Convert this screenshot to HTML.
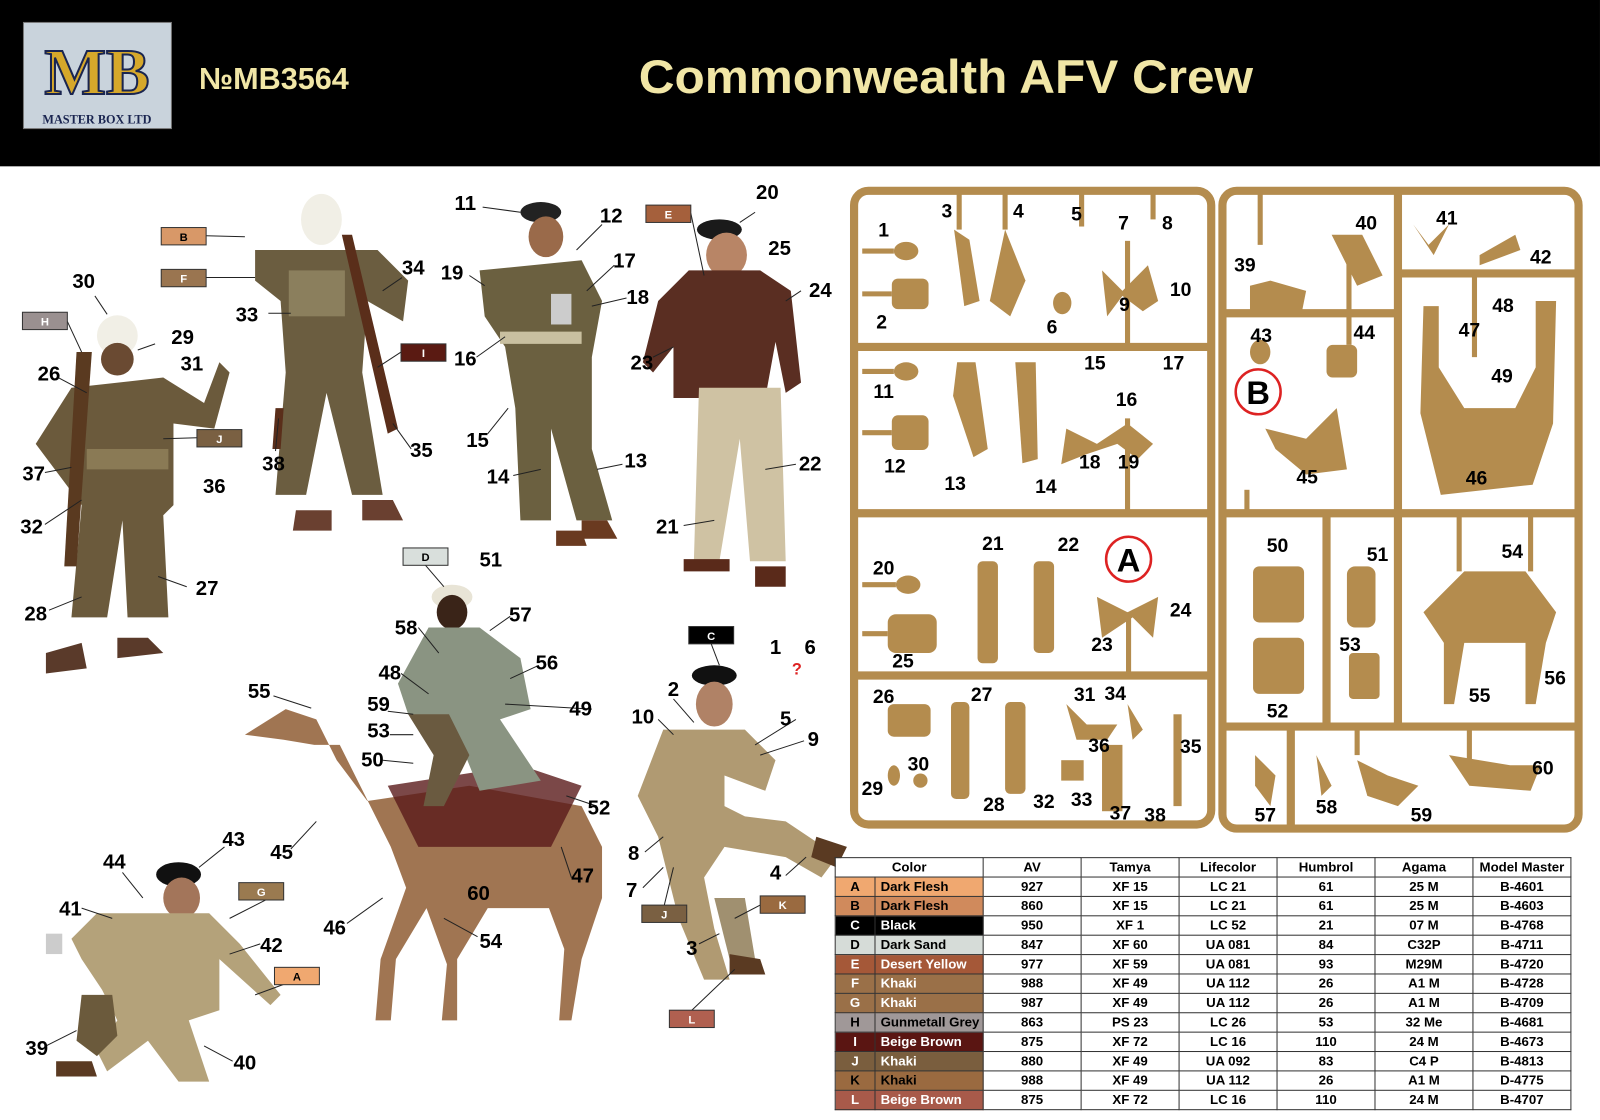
<!DOCTYPE html>
<html><head><meta charset="utf-8">
<style>
html,body{margin:0;padding:0;background:#fff;width:1600px;height:1120px;overflow:hidden}
#w{position:absolute;left:0;top:0;width:1568px;height:1098px;transform:scale(1.0204);transform-origin:0 0;font-family:"Liberation Sans",sans-serif}
svg text{font-family:"Liberation Sans",sans-serif;font-weight:bold}
table{position:absolute;left:818px;top:840px;border-collapse:collapse;font-family:"Liberation Sans",sans-serif;font-weight:bold;font-size:13px}
td{border:1px solid #333;height:18px;padding:0;text-align:center;width:95px;line-height:18px}
td.l{width:38px;color:#fff}td.n{width:100px;text-align:left;padding-left:5px;color:#fff}
</style></head><body><div id="w">
<svg width="1568" height="1098" viewBox="0 0 1568 1098" style="position:absolute;left:0;top:0">
<rect x="0" y="0" width="1568" height="163" fill="#000"/>
<rect x="23" y="22" width="145" height="104" fill="#c9d3dc" stroke="#777"/>
<text x="95" y="92" font-size="64" text-anchor="middle" fill="#d6a82b" stroke="#1a2550" stroke-width="2" style="font-family:'Liberation Serif',serif">MB</text>
<text x="95" y="121" font-size="12" text-anchor="middle" fill="#1a2550" style="font-family:'Liberation Serif',serif">MASTER BOX LTD</text>
<text x="195" y="87" font-size="30" fill="#f1e6a6">№MB3564</text>
<text x="626" y="91" font-size="46" fill="#f1e6a6" textLength="602" lengthAdjust="spacingAndGlyphs">Commonwealth AFV Crew</text>

<g fill="none" stroke="#b48c4e" stroke-width="8">
<rect x="837" y="187" width="350" height="621" rx="14"/>
<line x1="837" y1="340" x2="1187" y2="340"/><line x1="837" y1="503" x2="1187" y2="503"/><line x1="837" y1="662" x2="1187" y2="662"/>
<rect x="1198" y="187" width="349" height="625" rx="14"/>
<line x1="1198" y1="307" x2="1370" y2="307"/><line x1="1370" y1="187" x2="1370" y2="712"/><line x1="1370" y1="268" x2="1547" y2="268"/>
<line x1="1198" y1="503" x2="1547" y2="503"/><line x1="1300" y1="503" x2="1300" y2="712"/><line x1="1198" y1="712" x2="1547" y2="712"/>
<line x1="1265" y1="712" x2="1265" y2="812"/>
</g>
<g fill="none" stroke="#b48c4e" stroke-width="5">
<line x1="940" y1="187" x2="940" y2="225"/><line x1="985" y1="187" x2="985" y2="225"/><line x1="1060" y1="187" x2="1060" y2="222"/><line x1="1130" y1="187" x2="1130" y2="215"/>
<line x1="1105" y1="236" x2="1105" y2="340"/><line x1="845" y1="246" x2="876" y2="246"/><line x1="845" y1="288" x2="874" y2="288"/>
<line x1="1105" y1="410" x2="1105" y2="503"/><line x1="845" y1="364" x2="876" y2="364"/><line x1="845" y1="424" x2="874" y2="424"/>
<line x1="845" y1="573" x2="878" y2="573"/><line x1="845" y1="621" x2="870" y2="621"/><line x1="1106" y1="600" x2="1106" y2="662"/>
<line x1="1235" y1="187" x2="1235" y2="240"/><line x1="1322" y1="240" x2="1322" y2="338"/><line x1="1222" y1="480" x2="1222" y2="503"/>
<line x1="1445" y1="268" x2="1445" y2="350"/><line x1="1430" y1="503" x2="1430" y2="560"/><line x1="1500" y1="503" x2="1500" y2="560"/>
<line x1="1330" y1="712" x2="1330" y2="740"/><line x1="1440" y1="712" x2="1440" y2="745"/>
</g>
<g fill="#b48c4e" stroke="none">
<ellipse cx="888" cy="246" rx="12" ry="9"/><rect x="874" y="273" width="36" height="30" rx="6"/>
<path d="M935 225 l15 10 l10 60 l-15 5 z"/><path d="M985 225 l20 50 l-15 35 l-20 -15 z"/>
<ellipse cx="1041" cy="297" rx="9" ry="11"/><path d="M1080 265 l20 20 l25 -25 l10 35 l-15 10 l-20 -15 l-15 20 z"/>
<ellipse cx="888" cy="364" rx="12" ry="9"/><rect x="874" y="407" width="36" height="34" rx="6"/>
<path d="M938 355 l18 0 l12 85 l-14 8 l-20 -60 z"/><path d="M995 355 l20 0 l2 95 l-15 4 z"/>
<path d="M1045 420 l30 15 l30 -20 l25 20 l-15 15 l-20 -15 l-30 10 l-25 10 z"/>
<ellipse cx="890" cy="573" rx="12" ry="9"/><rect x="870" y="602" width="48" height="38" rx="8"/>
<rect x="958" y="550" width="20" height="100" rx="5"/><rect x="1013" y="550" width="20" height="90" rx="5"/>
<path d="M1075 585 l30 15 l30 -15 l-5 40 l-20 -20 l-30 20 z"/>
<rect x="870" y="690" width="42" height="32" rx="6"/><rect x="932" y="688" width="18" height="95" rx="5"/><rect x="985" y="688" width="20" height="90" rx="5"/>
<path d="M1045 690 l20 20 l30 0 l-10 15 l-30 0 z"/><path d="M1105 690 l15 25 l-10 10 z"/><ellipse cx="876" cy="760" rx="6" ry="10"/><ellipse cx="902" cy="765" rx="7" ry="7"/>
<rect x="1040" y="745" width="22" height="20"/><rect x="1080" y="730" width="20" height="65"/><rect x="1150" y="700" width="8" height="90"/>
<path d="M1225 280 l20 -5 l35 10 l-5 25 l-50 -5 z"/><path d="M1305 230 l30 0 l20 40 l-25 10 z"/>
<path d="M1385 220 l15 20 l20 -20 l-15 30 z"/><path d="M1450 250 l35 -20 l5 15 l-40 15 z"/>
<ellipse cx="1235" cy="345" rx="10" ry="12"/><rect x="1300" y="338" width="30" height="32" rx="6"/>
<path d="M1240 420 l40 10 l30 -30 l10 60 l-40 5 l-30 -25 z"/>
<path d="M1395 300 l15 0 l0 60 l25 40 l50 0 l20 -40 l0 -65 l20 0 l-3 120 l-20 60 l-90 10 l-20 -80 z"/>
<rect x="1228" y="555" width="50" height="55" rx="6"/><rect x="1228" y="625" width="50" height="55" rx="6"/>
<rect x="1320" y="555" width="28" height="60" rx="8"/><rect x="1322" y="640" width="30" height="45" rx="4"/>
<path d="M1395 600 l40 -40 l60 0 l30 40 l-10 30 l-10 60 l-10 0 l0 -60 l-60 0 l-10 60 l-10 0 l0 -60 z"/>
<path d="M1230 740 l20 20 l-5 30 l-15 -20 z"/><path d="M1290 740 l15 30 l-10 10 z"/><path d="M1330 745 l30 15 l30 10 l-20 20 l-30 -10 z"/>
<path d="M1420 740 l60 10 l30 0 l-10 25 l-60 -5 z"/>
</g>
<circle cx="1106" cy="548" r="22" fill="none" stroke="#d22" stroke-width="2.5"/><text x="1106" y="560" font-size="32" text-anchor="middle">A</text>
<circle cx="1233" cy="384" r="22" fill="none" stroke="#d22" stroke-width="2.5"/><text x="1233" y="396" font-size="32" text-anchor="middle">B</text>
<g font-size="19" text-anchor="middle">
<text x="866" y="232">1</text><text x="928" y="213">3</text><text x="998" y="213">4</text><text x="1055" y="216">5</text><text x="1101" y="225">7</text><text x="1144" y="225">8</text>
<text x="864" y="322">2</text><text x="1031" y="327">6</text><text x="1102" y="305">9</text><text x="1157" y="290">10</text>
<text x="866" y="390">11</text><text x="1073" y="362">15</text><text x="1150" y="362">17</text><text x="1104" y="398">16</text>
<text x="877" y="463">12</text><text x="936" y="480">13</text><text x="1025" y="483">14</text><text x="1068" y="459">18</text><text x="1106" y="459">19</text>
<text x="866" y="563">20</text><text x="973" y="539">21</text><text x="1047" y="540">22</text><text x="1157" y="604">24</text><text x="1080" y="638">23</text><text x="885" y="654">25</text>
<text x="866" y="689">26</text><text x="962" y="687">27</text><text x="1063" y="687">31</text><text x="1093" y="686">34</text><text x="1167" y="738">35</text><text x="1077" y="737">36</text>
<text x="855" y="779">29</text><text x="900" y="755">30</text><text x="974" y="795">28</text><text x="1023" y="792">32</text><text x="1060" y="790">33</text><text x="1098" y="803">37</text><text x="1132" y="805">38</text>
<text x="1220" y="266">39</text><text x="1339" y="225">40</text><text x="1418" y="220">41</text><text x="1510" y="258">42</text>
<text x="1236" y="335">43</text><text x="1337" y="332">44</text><text x="1473" y="306">48</text><text x="1440" y="330">47</text><text x="1472" y="375">49</text>
<text x="1281" y="474">45</text><text x="1447" y="475">46</text>
<text x="1252" y="541">50</text><text x="1350" y="550">51</text><text x="1482" y="547">54</text><text x="1323" y="638">53</text><text x="1252" y="703">52</text>
<text x="1524" y="671">56</text><text x="1450" y="688">55</text><text x="1512" y="759">60</text>
<text x="1240" y="805">57</text><text x="1300" y="797">58</text><text x="1393" y="805">59</text>
</g>

<g>
<ellipse cx="115" cy="329" rx="20" ry="20" fill="#f1efe6"/><ellipse cx="115" cy="352" rx="16" ry="16" fill="#6a4a32"/>
<path d="M70 380 l90 -10 l40 25 l15 -40 l10 10 l-15 55 l-40 -5 l0 80 l-10 10 l5 100 l-40 0 l-5 -95 l-15 95 l-35 0 l10 -110 l-15 -20 l-30 -40 z" fill="#6b5a3c"/>
<rect x="85" y="440" width="80" height="20" fill="#8a7a55"/><path d="M75 345 l15 0 l-15 210 l-12 0 z" fill="#5a3a20"/>
<path d="M45 640 l35 -10 l5 25 l-40 5 z M115 625 l30 0 l15 15 l-45 5z" fill="#5a3a2a"/>
<ellipse cx="315" cy="215" rx="20" ry="25" fill="#f1efe6"/><path d="M250 245 l120 0 l30 30 l-5 40 l-35 -20 l-5 70 l20 120 l-30 0 l-25 -100 l-20 100 l-30 0 l10 -120 l-5 -70 l-25 -20 z" fill="#6b5d40"/>
<rect x="283" y="265" width="55" height="45" fill="#8b7f5d"/><path d="M335 230 l10 0 l45 190 l-10 5 z" fill="#5a2e1a"/><path d="M270 400 l8 0 l-3 40 l-8 0z" fill="#5a2e1a"/>
<path d="M290 500 l35 0 l0 20 l-38 0z M355 490 l30 0 l10 20 l-40 0z" fill="#6a4030"/>
<ellipse cx="530" cy="208" rx="20" ry="10" fill="#222"/><ellipse cx="535" cy="232" rx="17" ry="20" fill="#9a6a4a"/>
<path d="M470 265 l100 -10 l20 40 l-10 55 l0 90 l20 70 l-35 0 l-25 -90 l0 90 l-30 0 l-5 -110 l-10 -60 l-20 -30 z" fill="#6b6040"/>
<rect x="490" y="325" width="80" height="12" fill="#c9c0a0"/><rect x="540" y="288" width="20" height="30" fill="#ccc"/>
<path d="M545 520 l25 0 l5 15 l-30 0z M570 510 l25 0 l10 18 l-35 0z" fill="#6a3a20"/>
<ellipse cx="705" cy="225" rx="22" ry="10" fill="#1a1a1a"/><ellipse cx="712" cy="250" rx="20" ry="22" fill="#b88566"/>
<path d="M675 265 l70 0 l30 20 l10 90 l-15 10 l-10 -50 l-10 55 l-90 0 l0 -50 l-20 25 l-10 -10 l15 -60 z" fill="#5a2e22"/>
<path d="M685 380 l80 0 l5 170 l-35 0 l-10 -120 l-20 120 l-25 0 z" fill="#cfc2a3"/>
<path d="M670 548 l45 0 l0 12 l-45 0z M740 555 l30 0 l0 20 l-30 0z" fill="#5a2a1a"/>
<path d="M240 720 l40 -25 l30 10 l20 40 l30 40 l100 -15 l110 20 l20 40 l0 50 l-20 60 l-10 60 l-12 0 l5 -70 l-15 -40 l-60 0 l-30 50 l0 60 l-15 0 l5 -55 l-20 -55 l-30 50 l-5 60 l-15 0 l5 -60 l25 -70 l-15 -40 l-30 -60 l-20 -40 l-25 0 l-30 -5 z" fill="#a07552"/>
<path d="M380 770 l130 -20 l60 20 l-30 60 l-130 0 z" fill="#5a1a1a" opacity=".8"/>
<ellipse cx="443" cy="585" rx="20" ry="12" fill="#e8e4d6"/><ellipse cx="443" cy="600" rx="15" ry="17" fill="#3a2418"/>
<path d="M420 615 l50 0 l40 30 l10 50 l-30 10 l40 60 l-60 10 l-20 -50 l-20 5 l-30 -30 l-10 -30 z" fill="#8a9482"/>
<path d="M400 700 l40 0 l20 40 l-25 50 l-20 0 l10 -50 z" fill="#6a5a40"/>
<ellipse cx="700" cy="662" rx="22" ry="10" fill="#111"/><ellipse cx="700" cy="690" rx="18" ry="22" fill="#b08266"/>
<path d="M650 715 l80 0 l30 30 l-10 30 l-40 -15 l0 30 l20 10 l40 5 l30 20 l20 15 l-15 20 l-35 -20 l-60 -10 l-20 30 l10 50 l15 50 l-25 0 l-25 -60 l-20 -80 l-20 -40 z" fill="#b09a72"/>
<path d="M700 880 l30 0 l10 60 l-25 0 z" fill="#a09070"/><path d="M715 935 l30 5 l5 15 l-35 0z M800 820 l30 10 l-10 20 l-25 -10z" fill="#5a3a22"/>
<ellipse cx="175" cy="857" rx="22" ry="12" fill="#111"/><ellipse cx="178" cy="880" rx="18" ry="20" fill="#a3755a"/>
<path d="M95 895 l110 0 l30 30 l40 50 l-10 10 l-50 -45 l0 50 l-30 10 l20 60 l-30 0 l-30 -40 l-40 30 l-10 -20 l20 -30 l-15 -30 l-20 -30 l-10 -20 z" fill="#b4a27a"/>
<path d="M80 975 l30 0 l5 40 l-20 20 l-20 -15 z" fill="#6b5a3c"/><path d="M55 1040 l35 0 l5 15 l-40 0z" fill="#5a3a22"/>
<rect x="45" y="915" width="16" height="20" fill="#ccc"/>
</g>

<g stroke="#222" stroke-width="1" fill="none">
<path d="M202 231 L240 232"/><path d="M202 272 L250 272"/><path d="M66 315 L80 345"/><path d="M393 345 L370 360"/><path d="M193 429 L160 430"/>
<path d="M677 209 L690 270"/><path d="M417 554 L435 575"/><path d="M697 631 L705 652"/><path d="M278 873 L225 900"/><path d="M280 964 L250 975"/>
<path d="M651 887 L660 850"/><path d="M745 887 L720 900"/><path d="M678 990 L720 950"/>
<path d="M473 203 L510 208"/><path d="M590 220 L565 245"/><path d="M740 208 L725 218"/><path d="M93 290 L105 308"/><path d="M152 337 L135 343"/>
<path d="M57 370 L85 385"/><path d="M44 463 L70 458"/><path d="M44 514 L80 490"/><path d="M48 598 L80 585"/><path d="M183 575 L155 565"/>
<path d="M263 307 L285 307"/><path d="M394 272 L375 285"/><path d="M403 440 L385 415"/><path d="M270 442 L273 410"/>
<path d="M460 270 L475 280"/><path d="M467 350 L495 330"/><path d="M478 425 L498 400"/><path d="M503 466 L530 460"/><path d="M610 455 L585 460"/>
<path d="M602 260 L575 285"/><path d="M614 292 L580 300"/><path d="M785 285 L770 295"/><path d="M640 350 L660 340"/><path d="M780 455 L750 460"/><path d="M670 515 L700 510"/>
<path d="M268 682 L305 694"/><path d="M585 790 L555 780"/><path d="M285 832 L310 805"/><path d="M560 860 L550 830"/><path d="M340 905 L375 880"/><path d="M468 918 L435 900"/>
<path d="M580 695 L495 690"/><path d="M528 652 L500 665"/><path d="M500 604 L480 618"/><path d="M410 615 L430 640"/><path d="M393 660 L420 680"/>
<path d="M380 697 L405 700"/><path d="M382 720 L405 720"/><path d="M375 745 L405 748"/>
<path d="M645 705 L660 720"/><path d="M660 685 L680 708"/><path d="M780 705 L740 730"/><path d="M788 726 L745 740"/><path d="M632 835 L650 820"/><path d="M630 870 L650 850"/><path d="M770 858 L790 840"/><path d="M685 925 L705 915"/>
<path d="M220 830 L195 850"/><path d="M120 855 L140 880"/><path d="M80 890 L110 900"/><path d="M255 925 L225 935"/><path d="M45 1025 L75 1010"/><path d="M228 1040 L200 1025"/>
</g>

<g font-size="11" text-anchor="middle">
<rect x="158" y="223" width="44" height="17" fill="#d89868" stroke="#333"/><text x="180" y="236">B</text>
<rect x="158" y="264" width="44" height="17" fill="#9a7550" stroke="#333"/><text x="180" y="277" fill="#fff">F</text>
<rect x="22" y="306" width="44" height="17" fill="#9a9090" stroke="#333"/><text x="44" y="319" fill="#fff">H</text>
<rect x="393" y="337" width="44" height="17" fill="#5a1a12" stroke="#333"/><text x="415" y="350" fill="#fff">I</text>
<rect x="193" y="421" width="44" height="17" fill="#7a6042" stroke="#333"/><text x="215" y="434" fill="#fff">J</text>
<rect x="633" y="201" width="44" height="17" fill="#a5603c" stroke="#333"/><text x="655" y="214" fill="#fff">E</text>
<rect x="395" y="537" width="44" height="17" fill="#d9dfdc" stroke="#333"/><text x="417" y="550">D</text>
<rect x="675" y="614" width="44" height="17" fill="#000" stroke="#333"/><text x="697" y="627" fill="#fff">C</text>
<rect x="234" y="865" width="44" height="17" fill="#9a7a50" stroke="#333"/><text x="256" y="878" fill="#fff">G</text>
<rect x="269" y="948" width="44" height="17" fill="#f0a870" stroke="#333"/><text x="291" y="961">A</text>
<rect x="629" y="887" width="44" height="17" fill="#7a6042" stroke="#333"/><text x="651" y="900" fill="#fff">J</text>
<rect x="745" y="878" width="44" height="17" fill="#9a6a40" stroke="#333"/><text x="767" y="891" fill="#fff">K</text>
<rect x="656" y="990" width="44" height="17" fill="#b06050" stroke="#333"/><text x="678" y="1003" fill="#fff">L</text>
</g>

<g font-size="20" text-anchor="middle">
<text x="82" y="282">30</text><text x="179" y="337">29</text><text x="188" y="363">31</text><text x="48" y="373">26</text><text x="210" y="483">36</text>
<text x="33" y="471">37</text><text x="31" y="523">32</text><text x="203" y="583">27</text><text x="35" y="608">28</text>
<text x="405" y="269">34</text><text x="242" y="315">33</text><text x="413" y="448">35</text><text x="268" y="461">38</text>
<text x="456" y="206">11</text><text x="599" y="218">12</text><text x="443" y="274">19</text><text x="612" y="262">17</text><text x="625" y="298">18</text>
<text x="456" y="358">16</text><text x="468" y="438">15</text><text x="488" y="474">14</text><text x="623" y="458">13</text>
<text x="752" y="195">20</text><text x="764" y="250">25</text><text x="804" y="291">24</text><text x="629" y="362">23</text><text x="794" y="461">22</text><text x="654" y="523">21</text>
<text x="481" y="555">51</text><text x="510" y="609">57</text><text x="398" y="622">58</text><text x="536" y="656">56</text><text x="382" y="666">48</text>
<text x="254" y="684">55</text><text x="371" y="697">59</text><text x="569" y="701">49</text><text x="371" y="723">53</text><text x="365" y="751">50</text>
<text x="587" y="798">52</text><text x="276" y="842">45</text><text x="571" y="865">47</text><text x="469" y="882">60</text><text x="328" y="916">46</text><text x="481" y="929">54</text>
<text x="760" y="641">1</text><text x="794" y="641">6</text><text x="660" y="682">2</text><text x="630" y="709">10</text><text x="770" y="711">5</text><text x="797" y="731">9</text>
<text x="621" y="843">8</text><text x="760" y="862">4</text><text x="619" y="879">7</text><text x="678" y="936">3</text>
<text x="229" y="829">43</text><text x="112" y="851">44</text><text x="69" y="897">41</text><text x="266" y="933">42</text><text x="36" y="1034">39</text><text x="240" y="1048">40</text>
</g>
<text x="776" y="661" font-size="16" fill="#d22">?</text>
</svg>
<table>
<tr style="background:#fff"><td colspan="2" style="width:142px">Color</td><td>AV</td><td>Tamya</td><td>Lifecolor</td><td>Humbrol</td><td>Agama</td><td>Model Master</td></tr>
<tr><td class="l" style="background:#f0a870;color:#000">A</td><td class="n" style="background:#f0a870;color:#000">Dark Flesh</td><td>927</td><td>XF 15</td><td>LC 21</td><td>61</td><td>25 M</td><td>B-4601</td></tr>
<tr><td class="l" style="background:#d08a5c;color:#000">B</td><td class="n" style="background:#d08a5c;color:#000">Dark Flesh</td><td>860</td><td>XF 15</td><td>LC 21</td><td>61</td><td>25 M</td><td>B-4603</td></tr>
<tr><td class="l" style="background:#000">C</td><td class="n" style="background:#000">Black</td><td>950</td><td>XF 1</td><td>LC 52</td><td>21</td><td>07 M</td><td>B-4768</td></tr>
<tr><td class="l" style="background:#d6dcd8;color:#000">D</td><td class="n" style="background:#d6dcd8;color:#000">Dark Sand</td><td>847</td><td>XF 60</td><td>UA 081</td><td>84</td><td>C32P</td><td>B-4711</td></tr>
<tr><td class="l" style="background:#a55838">E</td><td class="n" style="background:#a55838">Desert Yellow</td><td>977</td><td>XF 59</td><td>UA 081</td><td>93</td><td>M29M</td><td>B-4720</td></tr>
<tr><td class="l" style="background:#9a7048">F</td><td class="n" style="background:#9a7048">Khaki</td><td>988</td><td>XF 49</td><td>UA 112</td><td>26</td><td>A1 M</td><td>B-4728</td></tr>
<tr><td class="l" style="background:#9a7048">G</td><td class="n" style="background:#9a7048">Khaki</td><td>987</td><td>XF 49</td><td>UA 112</td><td>26</td><td>A1 M</td><td>B-4709</td></tr>
<tr><td class="l" style="background:#a09898;color:#000">H</td><td class="n" style="background:#a09898;color:#000">Gunmetall Grey</td><td>863</td><td>PS 23</td><td>LC 26</td><td>53</td><td>32 Me</td><td>B-4681</td></tr>
<tr><td class="l" style="background:#5a1512">I</td><td class="n" style="background:#5a1512">Beige Brown</td><td>875</td><td>XF 72</td><td>LC 16</td><td>110</td><td>24 M</td><td>B-4673</td></tr>
<tr><td class="l" style="background:#7a5e3e">J</td><td class="n" style="background:#7a5e3e">Khaki</td><td>880</td><td>XF 49</td><td>UA 092</td><td>83</td><td>C4 P</td><td>B-4813</td></tr>
<tr><td class="l" style="background:#9a6a40;color:#000">K</td><td class="n" style="background:#9a6a40;color:#000">Khaki</td><td>988</td><td>XF 49</td><td>UA 112</td><td>26</td><td>A1 M</td><td>D-4775</td></tr>
<tr><td class="l" style="background:#a85a4a">L</td><td class="n" style="background:#a85a4a">Beige Brown</td><td>875</td><td>XF 72</td><td>LC 16</td><td>110</td><td>24 M</td><td>B-4707</td></tr>
</table>
</div></body></html>
